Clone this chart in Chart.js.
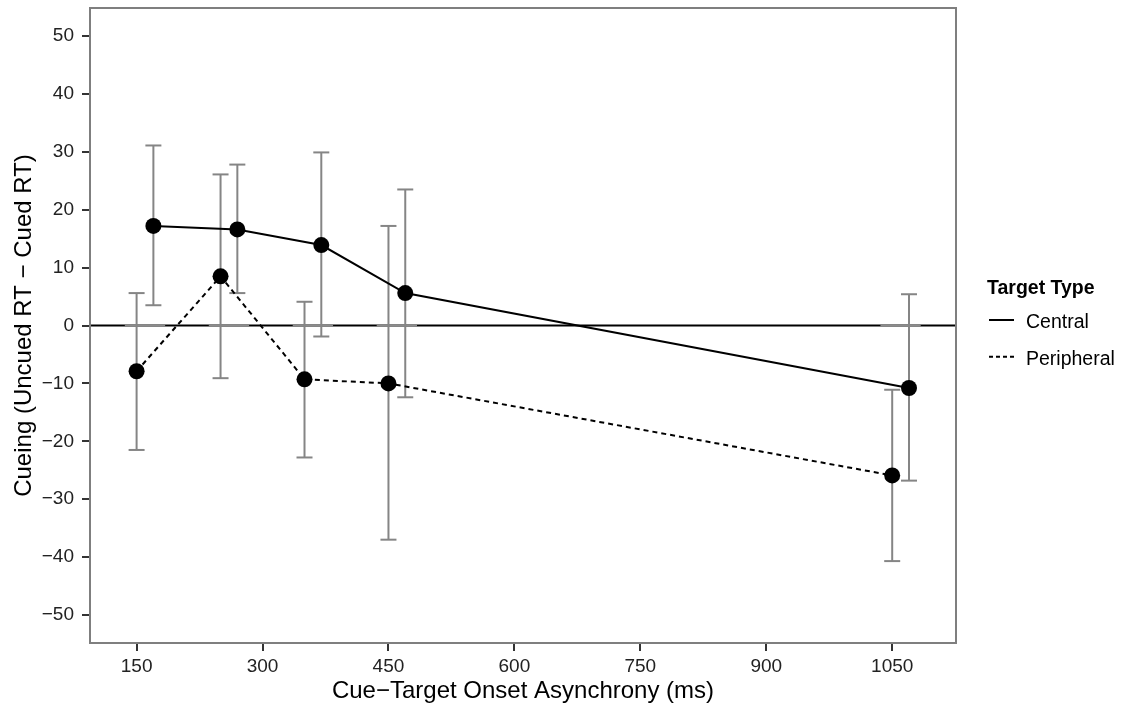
<!DOCTYPE html>
<html>
<head>
<meta charset="utf-8">
<script src="https://cdn.jsdelivr.net/npm/chart.js@4.4.1/dist/chart.umd.min.js"></script>
<style>
  html, body { margin: 0; padding: 0; background: #fff; }
  #wrap { width: 1129px; height: 710px; }
</style>
</head>
<body>
<div id="wrap"><canvas id="cueChart" width="1129" height="710"></canvas></div>
<script>
const ctoa = [150, 250, 350, 450, 1050];
const centralMean = [17.2, 16.6, 13.9, 5.6, -10.8];
const centralLow = [3.5, 5.6, -1.9, -12.4, -26.8];
const centralHigh = [31.1, 27.8, 29.9, 23.5, 5.4];
const peripheralMean = [-7.9, 8.5, -9.3, -10.0, -25.9];
const peripheralLow = [-21.5, -9.1, -22.8, -37.0, -40.7];
const peripheralHigh = [5.6, 26.1, 4.1, 17.2, -11.1];
const xTicks = [150, 300, 450, 600, 750, 900, 1050];
const yTicks = [-50, -40, -30, -20, -10, 0, 10, 20, 30, 40, 50];
const seriesNames = ['Central', 'Peripheral'];

const DODGE = 20; // central series is shifted right
const FONT = '"Liberation Sans", Arial, Helvetica, sans-serif';
const minus = v => String(v).replace('-', '\u2212');

function seg(ctx, x1, y1, x2, y2) {
    ctx.beginPath();
    ctx.moveTo(x1, y1);
    ctx.lineTo(x2, y2);
    ctx.stroke();
}

const errorBars = {
    id: 'errorBars',
    beforeDatasetsDraw(chart) {
        const { ctx, chartArea, scales: { x, y } } = chart;
        const y0 = y.getPixelForValue(0);
        ctx.save();
        ctx.lineWidth = 2;
        ctx.strokeStyle = '#000';
        seg(ctx, chartArea.left, y0, chartArea.right, y0);

        ctx.strokeStyle = '#8c8c8c';
        ctoa.forEach(v => seg(ctx, x.getPixelForValue(v - 14), y0, x.getPixelForValue(v + DODGE + 14), y0));

        const groups = [
            [0, peripheralLow, peripheralHigh],
            [DODGE, centralLow, centralHigh]
        ];
        ctx.strokeStyle = '#858585';
        groups.forEach(([shift, lo, hi]) => {
            ctoa.forEach((v, i) => {
                const px = x.getPixelForValue(v + shift);
                const pLo = y.getPixelForValue(lo[i]);
                const pHi = y.getPixelForValue(hi[i]);
                seg(ctx, px, pLo, px, pHi);
                seg(ctx, px - 8, pLo, px + 8, pLo);
                seg(ctx, px - 8, pHi, px + 8, pHi);
            });
        });
        ctx.restore();
    },
    afterDatasetsDraw(chart) {
        const { ctx, chartArea: a } = chart;
        ctx.save();
        ctx.strokeStyle = '#7f7f7f';
        ctx.lineWidth = 2;
        ctx.strokeRect(a.left, a.top, a.right - a.left, a.bottom - a.top);
        ctx.restore();
    }
};

const sideLegend = {
    id: 'sideLegend',
    afterDraw(chart) {
        const { ctx } = chart;
        const left = 987;
        ctx.save();
        ctx.fillStyle = '#000';
        ctx.textBaseline = 'alphabetic';
        ctx.font = 'bold 19.5px ' + FONT;
        ctx.fillText('Target Type', left, 294);
        ctx.font = '19.5px ' + FONT;
        chart.data.datasets.forEach((ds, i) => {
            const yy = 320 + i * 36.7;
            ctx.strokeStyle = '#000';
            ctx.lineWidth = 2;
            ctx.setLineDash(i === 0 ? [] : [4, 3]);
            seg(ctx, left + 2, yy, left + 27, yy);
            ctx.setLineDash([]);
            ctx.fillText(ds.label, left + 39, yy + 8);
        });
        ctx.restore();
    }
};

const toPoints = (means, shift) => ctoa.map((v, i) => ({ x: v + shift, y: means[i] }));

const ctx = document.getElementById('cueChart').getContext('2d');
new Chart(ctx, {
    type: 'line',
    data: {
        datasets: [
            {
                label: seriesNames[0],
                data: toPoints(centralMean, DODGE),
                borderColor: '#000',
                backgroundColor: '#000',
                borderWidth: 2,
                pointRadius: 8,
                pointHoverRadius: 8,
                pointBorderWidth: 0,
                tension: 0
            },
            {
                label: seriesNames[1],
                data: toPoints(peripheralMean, 0),
                borderColor: '#000',
                backgroundColor: '#000',
                borderWidth: 2,
                borderDash: [5, 4],
                pointRadius: 8,
                pointHoverRadius: 8,
                pointBorderWidth: 0,
                tension: 0
            }
        ]
    },
    options: {
        responsive: false,
        animation: false,
        layout: { padding: { top: 7, right: 173, left: 0, bottom: 0 } },
        plugins: {
            legend: { display: false },
            tooltip: { enabled: false }
        },
        scales: {
            x: {
                type: 'linear',
                min: 94.5,
                max: 1126,
                afterBuildTicks: s => { s.ticks = xTicks.map(v => ({ value: v })); },
                afterFit: s => { s.height = 67; s.paddingLeft = 0; s.paddingRight = 0; },
                grid: { drawOnChartArea: false, drawTicks: true, tickLength: 8, color: '#333', lineWidth: 2 },
                border: { display: false },
                ticks: {
                    padding: 4,
                    maxRotation: 0,
                    color: '#222',
                    font: { family: FONT, size: 19 },
                    callback: v => minus(v)
                },
                title: {
                    display: true,
                    text: 'Cue\u2212Target Onset Asynchrony (ms)',
                    color: '#000',
                    font: { family: FONT, size: 24 },
                    padding: { top: 0, bottom: 4 }
                }
            },
            y: {
                min: -54.85,
                max: 54.85,
                afterBuildTicks: s => { s.ticks = yTicks.map(v => ({ value: v })); },
                afterFit: s => { s.width = 90; s.paddingTop = 0; s.paddingBottom = 0; },
                grid: { drawOnChartArea: false, drawTicks: true, tickLength: 8, color: '#333', lineWidth: 2 },
                border: { display: false },
                ticks: {
                    padding: 8,
                    color: '#222',
                    font: { family: FONT, size: 19 },
                    callback: v => minus(v)
                },
                title: {
                    display: true,
                    text: 'Cueing (Uncued RT \u2212 Cued RT)',
                    color: '#000',
                    font: { family: FONT, size: 24 },
                    padding: { top: 10, bottom: 0 }
                }
            }
        }
    },
    plugins: [errorBars, sideLegend]
});
</script>
</body>
</html>
